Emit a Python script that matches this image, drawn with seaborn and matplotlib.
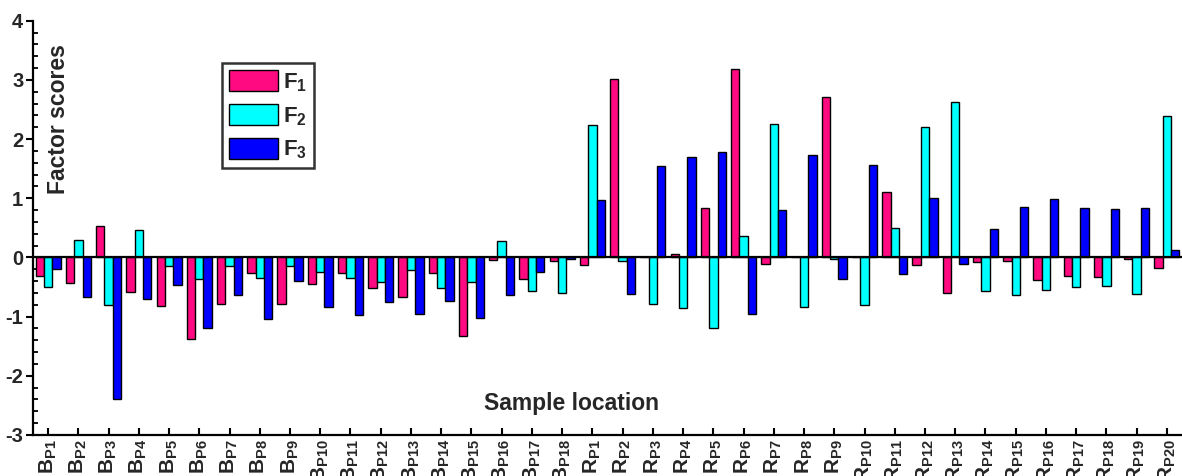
import matplotlib
matplotlib.use("Agg")
import matplotlib.pyplot as plt
import seaborn as sns
import pandas as pd
import numpy as np
from matplotlib.ticker import MultipleLocator
from matplotlib.patches import Patch

sites = [f"B{i}" for i in range(1, 19)] + [f"R{i}" for i in range(1, 21)]
tick_labels = ([r"$\mathbf{B}_{\mathbf{P%d}}$" % i for i in range(1, 19)] +
               [r"$\mathbf{R}_{\mathbf{P%d}}$" % i for i in range(1, 21)])

F1 = [-0.32, -0.43, 0.53, -0.59, -0.82, -1.38, -0.78, -0.26, -0.79, -0.45,
      -0.26, -0.51, -0.66, -0.26, -1.33, -0.05, -0.37, -0.06,
      -0.12, 3.01, 0.0, 0.06, 0.84, 3.19, -0.11, 0.0, 2.71, 0.0,
      1.10, -0.12, -0.60, -0.07, -0.06, -0.38, -0.32, -0.33, -0.03, -0.18]
F2 = [-0.50, 0.30, -0.80, 0.47, -0.14, -0.37, -0.15, -0.35, -0.14, -0.24,
      -0.35, -0.41, -0.22, -0.52, -0.41, 0.27, -0.56, -0.60,
      2.23, -0.06, -0.79, -0.86, -1.19, 0.37, 2.26, -0.84, -0.03, -0.81,
      0.50, 2.20, 2.62, -0.56, -0.64, -0.55, -0.50, -0.49, -0.62, 2.39]
F3 = [-0.20, -0.66, -2.40, -0.70, -0.47, -1.20, -0.63, -1.04, -0.39, -0.84,
      -0.97, -0.75, -0.95, -0.73, -1.02, -0.63, -0.24, -0.03,
      0.97, -0.61, 1.55, 1.69, 1.78, -0.96, 0.81, 1.73, -0.37, 1.57,
      -0.28, 1.00, -0.11, 0.48, 0.85, 0.99, 0.83, 0.82, 0.84, 0.13]
factors = ["F1", "F2", "F3"]
legend_labels = [r"$\mathbf{F}_{\mathbf{1}}$", r"$\mathbf{F}_{\mathbf{2}}$", r"$\mathbf{F}_{\mathbf{3}}$"]
colors = ["#ff0a80", "#00ffff", "#0000ff"]

df = pd.DataFrame({
    "site": sites * 3,
    "factor": ["F1"] * len(sites) + ["F2"] * len(sites) + ["F3"] * len(sites),
    "score": F1 + F2 + F3,
})

sns.set_theme(style="ticks")
plt.rcParams["font.family"] = ["Liberation Sans", "DejaVu Sans"]
plt.rcParams["mathtext.fontset"] = "custom"
plt.rcParams["mathtext.rm"] = "Liberation Sans"
plt.rcParams["mathtext.bf"] = "Liberation Sans:bold"
plt.rcParams["mathtext.it"] = "Liberation Sans:italic"
plt.rcParams["axes.unicode_minus"] = False

fig = plt.figure(figsize=(11.82, 4.76), dpi=100)
ax = fig.add_axes([33 / 1182, 1 - 435 / 476, 1 - 33 / 1182, (435 - 20.7) / 476])

sns.barplot(data=df, x="site", y="score", hue="factor", order=sites,
            hue_order=factors, palette=colors, edgecolor="black",
            linewidth=1.0, width=0.83, saturation=1, ax=ax, legend=False,
            errorbar=None)

ax.axhline(0, color="black", lw=1.6, zorder=5)
ax.set_xlim(-0.5, len(sites) - 0.5)
ax.set_ylim(-3, 4)

ax.spines["top"].set_visible(False)
ax.spines["right"].set_visible(False)
for s in ("left", "bottom"):
    ax.spines[s].set_linewidth(1.6)
    ax.spines[s].set_color("black")

ax.yaxis.set_major_locator(MultipleLocator(1))
ax.yaxis.set_minor_locator(MultipleLocator(0.2))
ax.tick_params(axis="y", which="major", direction="out", length=5, width=1.5,
               labelsize=14.5, pad=2, color="black")
ax.tick_params(axis="y", which="minor", direction="in", length=3.5, width=1.3,
               color="black")
for t in ax.get_yticklabels():
    t.set_fontweight("bold")

ax.set_xticks(range(len(sites)))
ax.set_xticklabels(tick_labels, rotation=90, fontsize=15)
ax.tick_params(axis="x", which="major", direction="in", length=5, width=1.5,
               pad=3, color="black")

ax.set_xlabel("Sample location", fontsize=16.5, fontweight="bold")
ax.xaxis.set_label_coords(0.469, 0.077)
ax.xaxis.label.set_va("center")
ax.set_ylabel("Factor scores", fontsize=16.5, fontweight="bold")
ax.yaxis.set_label_coords(0.0218, 0.763)
ax.yaxis.label.set_va("center")

handles = [Patch(facecolor=c, edgecolor="black", linewidth=1.0) for c in colors]
leg = ax.legend(handles, legend_labels, loc="upper left",
                bbox_to_anchor=(0.1645, 0.898), borderaxespad=0,
                fontsize=16, handlelength=2.2, handleheight=1.12,
                frameon=True, fancybox=False, labelspacing=0.45,
                handletextpad=0.25, borderpad=0.3)
leg.get_frame().set_edgecolor("black")
leg.get_frame().set_linewidth(1.8)

fig.savefig("out.png", dpi=100)
